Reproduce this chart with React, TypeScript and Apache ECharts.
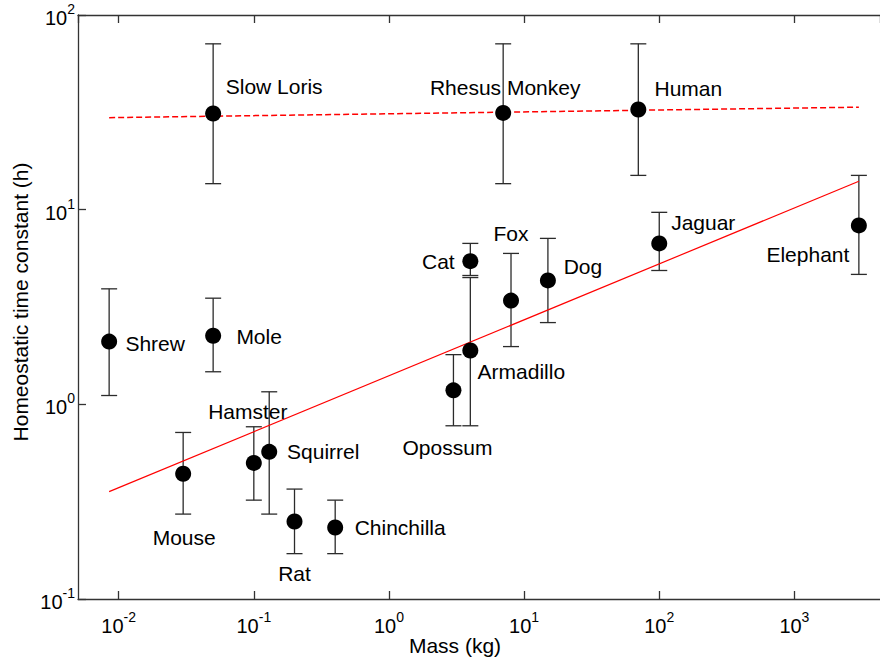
import React, { useEffect, useRef } from "react";
import * as echarts from "echarts";

// ---- data ----
const names = [
  "Shrew", "Mole", "Slow Loris", "Rhesus Monkey", "Human",
  "Mouse", "Hamster", "Squirrel", "Rat", "Chinchilla",
  "Opossum", "Armadillo", "Cat", "Fox", "Dog", "Jaguar", "Elephant",
];
const massKg = [0.0085, 0.05, 0.05, 7, 70, 0.03, 0.1, 0.13, 0.2, 0.4, 3, 4, 4, 8, 15, 100, 3000];
const tauH = [2.1, 2.25, 31.2, 31.4, 32.7, 0.44, 0.5, 0.57, 0.25, 0.233, 1.18, 1.89, 5.44, 3.41, 4.33, 6.71, 8.3];
const tauLow = [1.11, 1.47, 13.6, 13.6, 15.0, 0.273, 0.322, 0.273, 0.171, 0.171, 0.776, 0.776, 4.59, 1.98, 2.63, 4.87, 4.65];
const tauHigh = [3.92, 3.51, 71.1, 71.1, 71.1, 0.717, 0.767, 1.16, 0.367, 0.322, 1.8, 4.48, 6.71, 5.96, 7.12, 9.69, 15.0];

const fitMass = [0.0085, 3000];
const fitSmall = [0.356, 14.0];
const fitPrimate = [29.7, 33.6];

// label placement (style): offset of label centre from the marker, px
const labelOffsets: Record<string, [number, number]> = {
  Shrew: [46, 2],
  Mole: [46, 1],
  "Slow Loris": [61, -27],
  "Rhesus Monkey": [2, -25],
  Human: [50, -21],
  Mouse: [1, 64],
  Hamster: [-6, -51],
  Squirrel: [54, 0],
  Rat: [0, 52],
  Chinchilla: [65, 0],
  Opossum: [-6, 57],
  Armadillo: [51, 21],
  Cat: [-32, 0],
  Fox: [0, -67],
  Dog: [35, -14],
  Jaguar: [44, -21],
  Elephant: [-51, 29],
};

const FONT = "'Liberation Sans', Arial, Helvetica, sans-serif";
const AXIS_COLOR = "#333";
const TEXT_COLOR = "#000";

const powLabel = (v: number) => {
  const e = Math.round(Math.log10(v));
  return `{b|10}{s|${e}}`;
};
const richPow = {
  b: { fontSize: 20, fontFamily: FONT, color: TEXT_COLOR, lineHeight: 26, verticalAlign: "bottom" },
  s: { fontSize: 14, fontFamily: FONT, color: TEXT_COLOR, lineHeight: 16, verticalAlign: "top" },
};

export default function App() {
  const ref = useRef<HTMLDivElement>(null);
  useEffect(() => {
    if (!ref.current) return;
    const chart = echarts.init(ref.current, null, { renderer: "svg" });

    const xCommon = {
      type: "log" as const,
      logBase: 10,
      min: 0.005,
      max: 4300,
      splitLine: { show: false },
      minorTick: { show: false },
      axisLine: { show: true, lineStyle: { color: AXIS_COLOR, width: 1.3 } },
      axisTick: { show: true, inside: true, length: 8, lineStyle: { color: AXIS_COLOR, width: 1.3 } },
    };

    const option: any = {
      animation: false,
      backgroundColor: "#fff",
      textStyle: { fontFamily: FONT },
      grid: { left: 78, top: 15, right: 0, bottom: 63, containLabel: false },
      xAxis: [
        {
          ...xCommon,
          position: "bottom",
          axisLabel: {
            margin: 11,
            showMinLabel: false,
            showMaxLabel: false,
            formatter: powLabel,
            rich: richPow,
          },
        },
        {
          ...xCommon,
          position: "top",
          axisLabel: { show: false },
        },
      ],
      yAxis: {
        type: "log",
        logBase: 10,
        min: 0.1,
        max: 100,
        splitLine: { show: false },
        minorTick: { show: false },
        axisLine: { show: true, lineStyle: { color: AXIS_COLOR, width: 1.3 } },
        axisTick: { show: true, inside: true, length: 8, lineStyle: { color: AXIS_COLOR, width: 1.3 } },
        axisLabel: { margin: 3, formatter: powLabel, rich: richPow },
      },
      graphic: [
        {
          type: "text",
          x: 455,
          y: 645,
          style: {
            text: "Mass (kg)",
            font: `21px ${FONT}`,
            fill: TEXT_COLOR,
            textAlign: "center",
            textVerticalAlign: "middle",
          },
        },
        {
          type: "text",
          x: 20,
          y: 302,
          rotation: Math.PI / 2,
          style: {
            text: "Homeostatic time constant (h)",
            font: `21px ${FONT}`,
            fill: TEXT_COLOR,
            textAlign: "center",
            textVerticalAlign: "middle",
          },
        },
      ],
      series: [
        {
          type: "custom",
          name: "errors",
          xAxisIndex: 0,
          yAxisIndex: 0,
          encode: { x: 0, y: [1, 2] },
          data: massKg.map((m, i) => [m, tauLow[i], tauHigh[i]]),
          renderItem: (params: any, api: any) => {
            const x = api.value(0);
            const lo = api.coord([x, api.value(1)]);
            const hi = api.coord([x, api.value(2)]);
            const hw = 8;
            const st = { stroke: "#2b2b2b", lineWidth: 1.3 };
            return {
              type: "group",
              children: [
                { type: "line", shape: { x1: lo[0], y1: lo[1], x2: hi[0], y2: hi[1] }, style: st },
                { type: "line", shape: { x1: lo[0] - hw, y1: lo[1], x2: lo[0] + hw, y2: lo[1] }, style: st },
                { type: "line", shape: { x1: hi[0] - hw, y1: hi[1], x2: hi[0] + hw, y2: hi[1] }, style: st },
              ],
            };
          },
          z: 2,
        },
        {
          type: "line",
          name: "fit",
          data: fitMass.map((m, i) => [m, fitSmall[i]]),
          showSymbol: false,
          lineStyle: { color: "#ff0000", width: 1.2 },
          z: 3,
        },
        {
          type: "line",
          name: "primates",
          data: fitMass.map((m, i) => [m, fitPrimate[i]]),
          showSymbol: false,
          lineStyle: { color: "#ff0000", width: 1.5, type: [6, 3] },
          z: 3,
        },
        {
          type: "scatter",
          name: "animals",
          symbol: "circle",
          symbolSize: 16,
          itemStyle: { color: "#000", opacity: 1 },
          z: 4,
          data: names.map((n, i) => ({
            name: n,
            value: [massKg[i], tauH[i]],
            label: {
              show: true,
              position: "inside",
              offset: labelOffsets[n],
              formatter: n,
              color: TEXT_COLOR,
              fontSize: 21,
              fontFamily: FONT,
            },
          })),
        },
      ],
    };
    chart.setOption(option);
    return () => chart.dispose();
  }, []);

  return (
    <div
      ref={ref}
      style={{ position: "absolute", left: 0, top: 0, width: 880, height: 662, background: "#fff" }}
    />
  );
}
